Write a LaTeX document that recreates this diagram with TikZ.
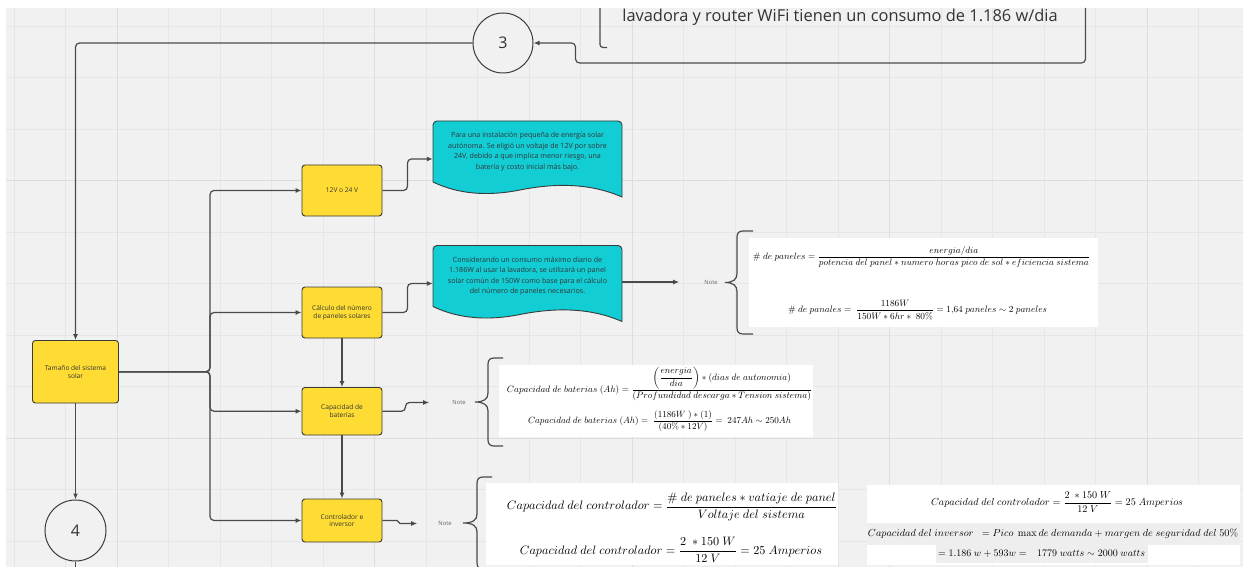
\documentclass[tikz,border=0pt]{standalone}
\usepackage[no-math]{fontspec}
\setmainfont{Open Sans}
\usepackage{amsmath}
\usepackage{graphicx}
\usetikzlibrary{arrows.meta,calc}

\definecolor{canvas}{HTML}{F1F1F1}
\definecolor{gridline}{HTML}{E6E6E6}
\definecolor{gridbold}{HTML}{DDDDDD}
\definecolor{sticky}{HTML}{FEDC34}
\definecolor{doccol}{HTML}{12CDD4}
\definecolor{ink}{HTML}{333333}
\definecolor{edge}{HTML}{3A3A3A}
\definecolor{wirecol}{HTML}{4A4A4A}
\definecolor{notecol}{HTML}{666666}
\definecolor{rowtint}{HTML}{EEEEEE}

% curly brace in front of a note: tip x, tip y, stem x, end x, half span
\newcommand\notebrace[5]{%
  \draw[wire,rounded corners=0pt] (#4,#2-#5) -- (#3+6,#2-#5)
    .. controls (#3+2,#2-#5) and (#3,#2-#5+2) .. (#3,#2-#5+6)
    -- (#3,#2-9) .. controls (#3,#2-3) and (#3-4,#2) .. (#1,#2)
    .. controls (#3-4,#2) and (#3,#2+3) .. (#3,#2+9)
    -- (#3,#2+#5-6) .. controls (#3,#2+#5-2) and (#3+2,#2+#5) .. (#3+6,#2+#5)
    -- (#4,#2+#5);}

\tikzset{
  gridminor/.style={draw=gridline, line width=0.8pt},
  gridmajor/.style={draw=gridbold, line width=1pt},
  wire/.style={draw=wirecol, line width=1.2pt, rounded corners=4pt},
  flow/.style={wire, -{Latex[length=6pt,width=5pt]}},
  stepbox/.style={draw=edge, line width=0.9pt, fill=sticky, rounded corners=3pt,
    minimum width=80pt, align=center, text=ink, inner sep=2pt,
    font=\fontsize{6.6}{7.8}\selectfont},
  docbox/.style={draw=edge, line width=0.9pt, fill=doccol},
  doctext/.style={align=center, text=ink, minimum width=189pt, inner sep=0pt,
    font=\fontsize{7.1}{10.5}\selectfont},
  marker/.style={circle, draw=edge, line width=1pt, fill=canvas, minimum size=60pt,
    inner sep=0pt, text=ink, font=\fontsize{16}{16}\selectfont},
  notelabel/.style={inner sep=0pt, text=notecol, font=\fontsize{5.8}{6}\selectfont},
  sheet/.style={fill=white, draw=none, inner sep=0pt},
  formula/.style={inner sep=0pt},
}

\begin{document}
\begin{tikzpicture}[x=1pt,y=-1pt]
\useasboundingbox (0,0) rectangle (1243,567);
\fill[white] (0,0) rectangle (1243,567);
\clip (6,8) rectangle (1243,567);
\fill[canvas] (6,8) rectangle (1243,567);

% board grid
\foreach \i in {0,...,23} \draw[gridminor] ({14+51.5*\i},8) -- ({14+51.5*\i},567);
\foreach \j in {0,...,10} \draw[gridminor] (6,{26+51.5*\j}) -- (1243,{26+51.5*\j});
\foreach \i in {0,...,4} \draw[gridmajor] ({117+257.5*\i},8) -- ({117+257.5*\i},567);
\foreach \j in {0,1} \draw[gridmajor] (6,{180.5+257.5*\j}) -- (1243,{180.5+257.5*\j});

% text block at the top
\node[inner sep=0pt, text=ink, font=\fontsize{16.4}{18}\selectfont, anchor=base]
  (consumo) at (840,21.5) {lavadora y router WiFi tienen un consumo de 1.186 w/dia};
\coordinate (frameTop) at (600,8);
\coordinate (frameEnd) at (607,47.5);
\draw[wire,rounded corners=3pt] (frameTop) |- (frameEnd);

% connector markers
\node[marker] (c3) at (503,43) {3};
\node[marker, minimum size=61pt] (c4) at (75.5,530.5) {4};
\coordinate (feed) at (1085.5,8);
\coordinate (c4out) at (75.5,575);

% process steps
\node[stepbox, minimum width=86pt, minimum height=62.5pt] (tam) at (75.5,371.75)
  {Tamaño del sistema\\solar};
\node[stepbox, minimum height=51pt] (v12) at (342,190.5) {12V o 24 V};
\node[stepbox, minimum height=51pt] (calc) at (342,312.5) {Cálculo del número\\de paneles solares};
\node[stepbox, minimum height=47.5pt] (bat) at (342,411.25) {Capacidad de\\baterías};
\node[stepbox, minimum height=43pt] (ctrl) at (342,520.5) {Controlador e\\inversor};
\coordinate (split) at (210,371.75);

% document shapes
\foreach \cy in {151.5,276} {
  \begin{scope}[shift={(527.5,\cy)}]
    \filldraw[docbox] (-94.5,30.5) [rounded corners=4pt] -- (-94.5,-30.5) -- (94.5,-30.5)
      -- (94.5,0) [sharp corners] -- (94.5,45.5)
      .. controls (62.5,31.5) and (27.5,31.5) .. (-7.5,38.5)
      .. controls (-37.5,44.5) and (-67.5,43.5) .. (-94.5,30.5) -- cycle;
  \end{scope}
}
\node[doctext] (doc1) at (527.5,151.5) {Para una instalación pequeña de energía solar\\
  autónoma. Se eligió un voltaje de 12V por sobre\\
  24V, debido a que implica menor riesgo, una\\
  batería y costo inicial más bajo.};
\node[doctext] (doc2) at (527.5,276) {Considerando un consumo máximo diario de\\
  1.186W al usar la lavadora, se utilizará un panel\\
  solar común de 150W como base para el cálculo\\
  del número de paneles necesarios.};

% notes
\node[notelabel] (note1) at (711,282) {Note};
\node[notelabel] (note2) at (459,402.5) {Note};
\node[notelabel] (note3) at (445,523.5) {Note};
\notebrace{725}{282.5}{737}{753}{51.5}
\notebrace{475}{402}{488}{503}{44}
\notebrace{463}{523}{477}{492}{46}

% formula sheets
\node[sheet, minimum width=349pt, minimum height=89pt] (sheet1) at (923.5,282.5) {};
\node[sheet, minimum width=314pt, minimum height=72pt] (sheet2) at (656,401) {};
\node[sheet, minimum width=352pt, minimum height=82pt] (sheet3) at (662,524) {};
\node[sheet, minimum width=373pt, minimum height=80pt] (sheet4) at (1053.5,525) {};
\fill[rowtint] (867,523) rectangle (1240,545);
\fill[rowtint] (936,545) rectangle (1148,563);

\node[formula] (eq1a) at (921.5,257) {\resizebox{337pt}{!}{$\#\ de\ paneles=\dfrac{energia/dia}{potencia\ del\ panel\ast numero\ horas\ pico\ de\ sol\ast eficiencia\ sistema}$}};
\node[formula] (eq1b) at (917.5,310) {\resizebox{259pt}{!}{$\#\ de\ panales=\ \dfrac{1186W}{150W\ast 6hr\ast\ 80\%}=1{,}64\ paneles\sim 2\ paneles$}};
\node[formula] (eq2a) at (659.5,384) {\resizebox{305pt}{!}{$Capacidad\ de\ baterias\ (Ah)=\dfrac{\left(\dfrac{energia}{dia}\right)\ast(dias\ de\ autonomia)}{(Profundidad\ descarga\ast Tension\ sistema)}$}};
\node[formula] (eq2b) at (659.5,421) {\resizebox{263pt}{!}{$Capacidad\ de\ baterias\ (Ah)=\ \dfrac{(1186W\ )\ast(1)}{(40\%\ast 12V)}=\ 247Ah\sim 250Ah$}};
\node[formula] (eq3a) at (672,507) {\resizebox{330pt}{!}{$Capacidad\ del\ controlador=\dfrac{\#\ de\ paneles\ast vatiaje\ de\ panel}{Voltaje\ del\ sistema}$}};
\node[formula] (eq3b) at (671,550) {\resizebox{302pt}{!}{$Capacidad\ del\ controlador=\dfrac{2\ \ast 150\ W}{12\ V}=25\ Amperios$}};
\node[formula] (eq4a) at (1057,502) {\resizebox{252pt}{!}{$Capacidad\ del\ controlador=\dfrac{2\ \ast 150\ W}{12\ V}=25\ Amperios$}};
\node[formula] (eq4b) at (1053,534) {\resizebox{370pt}{!}{$Capacidad\ del\ inversor\ \ =Pico\ \max de\ demanda+margen\ de\ seguridad\ del\ 50\%$}};
\node[formula] (eq4c) at (1041.5,554) {\resizebox{207pt}{!}{$=1.186\ w+593w=\ \ \ 1779\ watts\sim 2000\ watts$}};

% connectors
\draw[flow] (feed) |- ($(c3.east)+(42,20)$) |- (c3.east);
\draw[flow] (c3.west) -| (tam.north);
\draw[flow] (tam.south) -- (c4.north);
\draw[wire] (c4.south) -- (c4out);
\draw[flow] (tam.east) -- (split) |- (v12.west);
\draw[flow] (tam.east) -- (split) |- (calc.west);
\draw[flow] (tam.east) -- (split) |- (bat.west);
\draw[flow] (tam.east) -- (split) |- (ctrl.west);
\draw[flow] (calc.south) -- (bat.north);
\draw[flow] (bat.south) -- (ctrl.north);
\draw[flow] (v12.east) -- ++(25,0) |- ([yshift=-7.5pt]doc1.west);
\draw[flow] (calc.east) -- ++(25,0) |- ([yshift=-7.5pt]doc2.west);
\draw[flow, rounded corners=0pt] ([yshift=-6pt]doc2.east) -- ([xshift=-25pt]note1.west);
\draw[flow] (bat.east) -- ++(23,0) |- ([xshift=-23pt]note2.west);
\draw[flow, rounded corners=1.5pt] (ctrl.east) -- ++(16,0) |- ([xshift=-21pt]note3.west);
\end{tikzpicture}
\end{document}
